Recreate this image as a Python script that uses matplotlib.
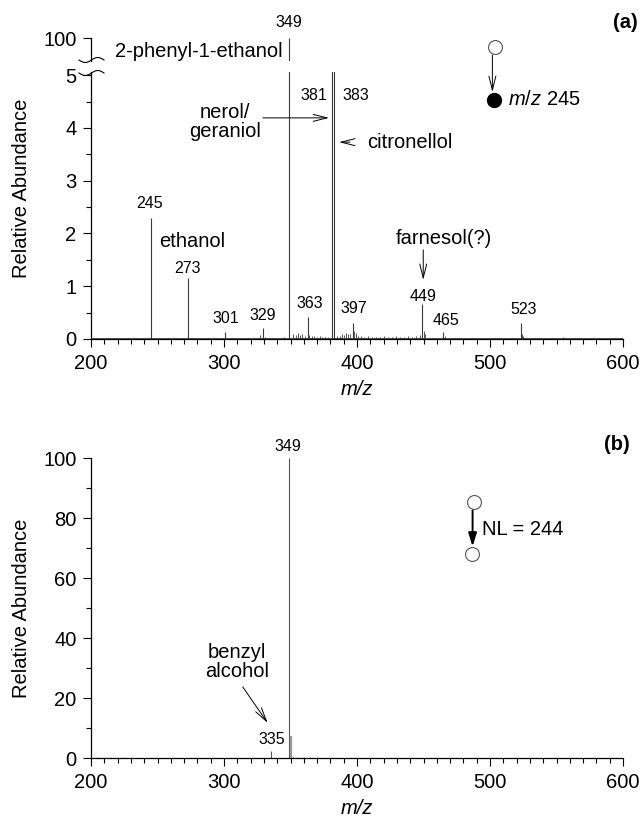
import numpy as np
import matplotlib
matplotlib.use('Agg')
import matplotlib.pyplot as plt
from matplotlib.lines import Line2D

plt.rcParams['font.family'] = ['Liberation Sans', 'DejaVu Sans']
plt.rcParams['mathtext.fontset'] = 'custom'
plt.rcParams['mathtext.it'] = 'Liberation Sans:italic'
plt.rcParams['mathtext.rm'] = 'Liberation Sans'

# ---- panel (a): MS3 spectrum, m/z 349 -> 245 ----
a_mz = [245, 273, 301, 329, 349, 363, 381, 383, 397, 449, 465, 523]
a_int = [2.30, 1.15, 0.13, 0.21, 100.0, 0.42, 6.5, 6.3, 0.30, 0.66, 0.13, 0.30]
a_labels = ['245', '273', '301', '329', '349', '363', '381', '383', '397', '449', '465', '523']

# small peaks near the baseline
a_noise_mz = [327, 331, 345, 352, 354, 356, 357, 359, 361, 364, 366, 368, 370, 372,
              374, 376, 378, 385, 387, 389, 390, 392, 393, 395, 398, 399, 401, 403,
              405, 408, 411, 414, 417, 420, 423, 426, 429, 432, 435, 438, 441, 444,
              447, 450, 451, 466, 524, 525, 555]
a_noise_int = [0.08, 0.04, 0.03, 0.10, 0.08, 0.12, 0.07, 0.09, 0.06, 0.08, 0.06, 0.05, 0.04, 0.05,
               0.04, 0.03, 0.04, 0.05, 0.06, 0.10, 0.08, 0.12, 0.09, 0.10, 0.15, 0.12, 0.06, 0.05,
               0.04, 0.05, 0.04, 0.03, 0.04, 0.05, 0.04, 0.03, 0.05, 0.04, 0.04, 0.05, 0.04, 0.06,
               0.07, 0.15, 0.10, 0.05, 0.10, 0.06, 0.04]

# ---- panel (b): MS3 spectrum, NL = 244 ----
b_mz = [335, 349, 350]
b_int = [2.5, 100.0, 7.5]
b_noise_mz = [205, 210, 215, 220, 225, 230, 352, 355, 360, 365, 370]
b_noise_int = [0.4, 0.4, 0.3, 0.3, 0.3, 0.2, 0.6, 0.5, 0.4, 0.3, 0.2]

W, H = 644, 819
fig = plt.figure(figsize=(W / 100, H / 100), dpi=100)


def px(x0, y0, x1, y1):
    # axes rect from pixel box
    return [x0 / W, 1 - y1 / H, (x1 - x0) / W, (y1 - y0) / H]


TICK = 14.5
LAB = 11.5
ANN = 14.5
lc = '#3a3a3a'


def style_x(ax):
    ax.set_xlim(200, 600)
    ax.set_xticks(np.arange(200, 601, 100))
    ax.set_xticks(np.arange(200, 601, 10), minor=True)
    ax.tick_params(axis='x', which='major', direction='out', length=6, width=0.8, labelsize=TICK, pad=5)
    ax.tick_params(axis='x', which='minor', direction='out', length=3.5, width=0.8)
    ax.spines['top'].set_visible(False)
    ax.spines['right'].set_visible(False)
    for s in ['left', 'bottom']:
        ax.spines[s].set_linewidth(0.9)


# lower part of panel (a)
ax1 = fig.add_axes(px(91, 72.5, 623, 339))
ax1.vlines(a_noise_mz, 0, a_noise_int, color=lc, lw=0.6)
ax1.vlines(a_mz, 0, a_int, color=lc, lw=0.8)
ax1.axhline(0.02, color=lc, lw=0.6)
style_x(ax1)
ax1.set_ylim(0, 5.05)
ax1.set_yticks([0, 1, 2, 3, 4, 5])
ax1.set_yticks(np.arange(0, 5.01, 0.5), minor=True)
ax1.tick_params(axis='y', which='major', direction='out', length=6, width=0.8, labelsize=TICK, pad=4.5)
ax1.tick_params(axis='y', which='minor', direction='out', length=3.5, width=0.8)
ax1.set_xlabel('m/z', style='italic', fontsize=TICK, labelpad=5)

# upper (broken) part of panel (a)
ax0 = fig.add_axes(px(91, 38, 623, 61), sharex=ax1)
ax0.vlines(a_mz, 0, a_int, color=lc, lw=0.8)
ax0.set_ylim(95.5, 100)
ax0.set_yticks([100])
ax0.tick_params(axis='y', which='major', direction='out', length=6, width=0.8, labelsize=TICK, pad=4.5)
ax0.tick_params(axis='x', which='both', bottom=False, labelbottom=False)
for s in ['top', 'right', 'bottom']:
    ax0.spines[s].set_visible(False)
ax0.spines['left'].set_linewidth(0.9)
ax0.patch.set_alpha(0)

# break marks on the y axis
sx = np.linspace(79, 104, 40)
for y0 in (60, 73):
    sy = y0 + 2.5 * np.sin(2 * np.pi * (sx - 79) / 25)
    fig.add_artist(Line2D(sx / W, 1 - sy / H, color='black', lw=0.8))

fig.text(22 / W, 1 - 188 / H, 'Relative Abundance', rotation=90, ha='center', va='center', fontsize=TICK)

# peak labels panel (a)
a_lab_pos = {'245': (244.4, 2.56), '273': (272.9, 1.33), '301': (301.5, 0.38),
             '329': (329.3, 0.44), '349': (348.9, 6.0), '363': (364.7, 0.68),
             '397': (397.7, 0.57), '449': (449.6, 0.81), '465': (466.9, 0.36),
             '523': (525.6, 0.55)}
for lab in a_labels:
    if lab in a_lab_pos:
        x, y = a_lab_pos[lab]
        ax1.text(x, y, lab, ha='center', va='center', fontsize=LAB, clip_on=False)
ax1.text(377.4, 4.62, '381', ha='right', va='center', fontsize=LAB)
ax1.text(388.7, 4.62, '383', ha='left', va='center', fontsize=LAB)

ax1.text(344.4, 5.44, '2-phenyl-1-ethanol', ha='right', va='center', fontsize=ANN, clip_on=False)
ax1.text(300.8, 4.11, 'nerol/\ngeraniol', ha='center', va='center', fontsize=ANN, linespacing=0.95)
ax1.text(276, 1.84, 'ethanol', ha='center', va='center', fontsize=ANN)
ax1.text(465.4, 1.91, 'farnesol(?)', ha='center', va='center', fontsize=ANN)
ax1.text(407.5, 3.73, 'citronellol', ha='left', va='center', fontsize=ANN)

thin = dict(arrowstyle='->,head_length=1.0,head_width=0.25', lw=0.7, color='black', shrinkA=0, shrinkB=0)
ax1.annotate('', xy=(379, 4.19), xytext=(329.3, 4.19), arrowprops=thin)
ax1.annotate('', xy=(386.5, 3.73), xytext=(394.7, 3.73), arrowprops=thin)
ax1.annotate('', xy=(449.8, 1.12), xytext=(449.8, 1.69), arrowprops=thin)

# scan symbols panel (a)
ax1.plot([503.8], [5.53], 'o', ms=10, mfc='white', mec='#555555', mew=0.8, clip_on=False)
ax1.annotate('', xy=(501.8, 4.68), xytext=(501.8, 5.38), arrowprops=thin, annotation_clip=False)
ax1.plot([503], [4.53], 'o', ms=10, mfc='black', mec='black', clip_on=False)
ax1.text(513.5, 4.53, r'$m/z$ 245', ha='left', va='center', fontsize=ANN)
fig.text(625 / W, 1 - 22 / H, '(a)', ha='center', va='center', fontsize=TICK, fontweight='bold')

# panel (b)
ax2 = fig.add_axes(px(91, 458, 623, 758))
ax2.vlines(b_noise_mz, 0, b_noise_int, color='#888888', lw=0.6)
ax2.vlines(b_mz[:2], 0, b_int[:2], color='#555555', lw=0.8)
ax2.vlines(b_mz[2:], 0, b_int[2:], color='#999999', lw=1.6)
style_x(ax2)
ax2.set_ylim(0, 100)
ax2.set_yticks(np.arange(0, 101, 20))
ax2.set_yticks(np.arange(0, 101, 10), minor=True)
ax2.tick_params(axis='y', which='major', direction='out', length=6, width=0.8, labelsize=TICK, pad=4.5)
ax2.tick_params(axis='y', which='minor', direction='out', length=3.5, width=0.8)
ax2.set_xlabel('m/z', style='italic', fontsize=TICK, labelpad=5)
fig.text(22 / W, 1 - 608 / H, 'Relative Abundance', rotation=90, ha='center', va='center', fontsize=TICK)

ax2.text(347.8, 103.7, '349', ha='center', va='center', fontsize=LAB, clip_on=False)
ax2.text(335.8, 6.3, '335', ha='center', va='center', fontsize=LAB)
ax2.text(309.6, 32, 'benzyl\nalcohol', ha='center', va='center', fontsize=ANN, linespacing=0.95)
ax2.annotate('', xy=(332.8, 11.7), xytext=(314.1, 23.7), arrowprops=thin)

ax2.plot([488.2], [85.3], 'o', ms=10, mfc='white', mec='#555555', mew=0.8)
ax2.plot([486.7], [68], 'o', ms=10, mfc='white', mec='#555555', mew=0.8)
bold = dict(arrowstyle='-|>,head_length=0.8,head_width=0.25', lw=1.4, color='black', shrinkA=0, shrinkB=0)
ax2.annotate('', xy=(486.9, 70.5), xytext=(486.9, 82.5), arrowprops=bold)
ax2.text(494.2, 76.3, 'NL = 244', ha='left', va='center', fontsize=ANN)
fig.text(617 / W, 1 - 445 / H, '(b)', ha='center', va='center', fontsize=TICK, fontweight='bold')

fig.savefig('out.png', dpi=100)
